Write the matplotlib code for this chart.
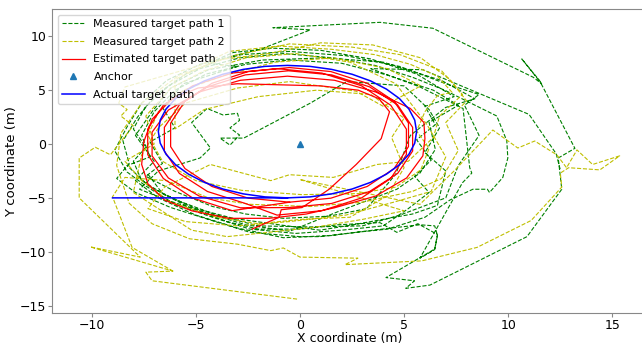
import matplotlib
matplotlib.use("Agg")
import matplotlib.pyplot as plt

# ---- Measured target path 1, (x, y) in metres ----
path1 = [
    (-7.3, -2.8), (-6.6, -4.6), (-5.3, -5.9), (-3.5, -7.2), (-2.0, -7.9), (0.0, -7.9), (1.8, -7.5),
    (3.84, -7.3), (4.65, -8.2), (5.66, -7.4), (6.6, -8.4), (6.47, -9.75), (4.13, -12.4), (5.5, -12.7),
    (5.08, -13.4), (6.24, -13.1), (10.9, -8.6), (12.57, -4.2), (12.4, -1.3), (13.2, -0.4), (11.5, 5.9),
    (10.65, 7.9), (11.6, 5.6), (11.2, 6.2), (6.38, 10.75), (3.84, 11.3), (-1.3, 10.8), (0.5, 10.6),
    (-1.9, 8.8), (-3.6, 8.0), (-5.4, 6.6), (-6.9, 4.6), (-7.8, 2.5), (-8.5, 0.3), (-8.2, -1.8),
    (-8.8, -3.2), (-7.9, -4.5), (-6.2, -5.9), (-4.4, -7.0), (-2.4, -8.2), (0.0, -8.6), (0.96, -8.6),
    (2.7, -8.2), (4.2, -7.9), (6.0, -6.8), (7.2, -5.2), (8.3, -4.2), (9.0, -4.2), (9.1, -4.5),
    (9.74, -3.1), (9.98, -1.3), (9.93, 0.3), (9.45, 2.6), (6.95, 5.0), (5.4, 6.2), (3.6, 7.3),
    (1.6, 8.0), (-0.8, 8.4), (-2.9, 8.0), (-4.8, 7.0), (-6.3, 5.4), (-7.4, 3.5), (-8.0, 1.4),
    (-7.4, -0.3), (-8.0, -1.6), (-7.6, -3.4), (-6.5, -4.7), (-5.0, -6.0), (-3.2, -6.9), (-1.0, -7.5),
    (0.96, -8.0), (2.55, -7.5), (5.4, -6.5), (6.6, -5.7), (7.0, -2.5), (6.0, -0.8), (6.7, 1.5),
    (6.2, 3.2), (5.0, 5.4), (2.25, 5.8), (0.5, 3.8), (-2.7, 0.55), (-3.84, 0.55), (-3.36, -0.1),
    (-2.9, 0.83), (-3.36, 1.5), (-2.9, 2.2), (-3.0, 2.85), (-3.7, 2.7), (-4.46, 3.3), (-5.2, 2.0),
    (-4.3, -0.37), (-4.8, -1.3), (-6.8, -2.5), (-7.7, -4.2), (-6.4, -5.2), (-4.5, -6.4), (-2.6, -7.5),
    (-0.5, -8.1), (1.8, -6.3), (4.65, -4.2), (5.76, -2.7), (6.5, -0.5), (6.2, 2.0), (7.6, 3.6),
    (6.4, 5.0), (4.2, 6.4), (2.0, 7.5), (-0.5, 7.8), (-2.6, 7.4), (-4.5, 6.5), (-6.0, 5.0),
    (-7.0, 3.0), (-7.6, 0.8), (-7.2, -1.2), (-8.3, -2.0), (-7.2, -4.0), (-5.8, -5.3), (-4.0, -6.6),
    (-2.0, -7.6), (0.5, -7.7), (3.0, -7.6), (4.8, -6.6), (7.0, -5.0), (7.6, -2.0), (8.6, 0.8),
    (7.9, 3.6), (8.6, 4.6), (7.0, 5.6), (4.8, 7.2), (2.2, 8.2), (-0.5, 8.6), (-2.8, 8.3),
    (-4.8, 7.4), (-6.4, 5.9), (-7.6, 3.8), (-8.3, 1.6), (-8.9, -0.6), (-8.3, -2.6), (-7.4, -3.9),
    (-6.0, -5.6), (-4.2, -6.8), (-2.4, -7.9), (-0.2, -8.3), (2.0, -8.0), (4.0, -7.6), (5.2, -6.0),
    (6.2, -4.5), (5.5, -3.0), (6.3, -1.5), (5.6, 0.4), (6.5, 1.8), (6.0, 3.5), (7.4, 4.4),
    (5.6, 6.5), (3.4, 7.9), (1.0, 8.7), (-1.3, 8.9), (-3.2, 8.5), (-4.4, 7.5), (-3.0, 7.2),
    (-5.6, 5.6), (-6.6, 3.4), (-6.0, 1.5), (-7.2, 0.2), (-6.6, -1.8), (-7.4, -3.0), (-6.0, -4.4),
    (-4.2, -5.8), (-2.6, -6.5), (-0.8, -6.9), (1.4, -6.7), (3.2, -6.0), (4.6, -2.8), (5.3, 0.8),
    (7.0, 3.4), (8.4, 4.2), (6.8, 5.9), (4.0, 7.6), (1.2, 8.0), (-1.8, 7.8), (-4.4, 6.9),
    (-6.2, 5.2), (-7.1, 3.0), (-7.9, 0.8), (-7.0, -1.6), (-7.9, -3.4), (-6.8, -5.0), (-5.0, -6.6),
    (-3.0, -7.8), (-0.8, -8.7), (1.5, -8.5), (3.5, -8.0), (5.76, -7.5), (6.47, -7.6), (6.6, -8.5),
    (6.47, -9.8), (5.76, -10.6), (7.8, -3.6), (8.25, -2.7), (8.15, -2.2), (7.83, 3.3), (5.76, 5.3),
    (3.4, 7.0), (5.9, 6.9), (11.0, 2.75), (12.3, -0.9), (12.5, -2.4),
]

# ---- Measured target path 2, (x, y) in metres ----
path2 = [
    (-0.14, -14.4), (-7.1, -12.7), (-7.4, -11.9), (-6.1, -11.8), (-10.07, -9.55), (-7.67, -10.5),
    (-10.6, -5.0), (-10.6, -1.3), (-9.83, -0.3), (-9.1, -1.0), (-8.0, 1.7), (-8.6, 2.6), (-8.3, 3.2),
    (-8.7, 3.8), (-8.4, 5.3), (-4.8, 7.3), (-3.4, 8.6), (-1.0, 9.1), (1.5, 8.8), (3.6, 8.3),
    (5.3, 7.4), (6.6, 6.3), (7.3, 4.8), (6.6, 4.5), (6.0, 3.0), (5.6, 1.2), (6.2, -0.4), (5.8, -2.4),
    (4.6, -4.0), (2.8, -4.6), (0.1, -4.7), (-2.8, -4.3), (-5.0, -3.4), (-6.6, -1.6), (-7.3, 0.8),
    (-6.8, 3.0), (-5.6, 5.0), (-3.6, 6.4), (-1.2, 7.6), (1.6, 8.0), (4.2, 7.0), (5.8, 5.4),
    (4.0, 3.5), (2.7, 4.9), (-0.5, 5.8), (-3.0, 5.2), (-5.5, 3.8), (-6.8, 1.5), (-7.6, -1.0),
    (-8.0, -4.5), (-5.2, -8.0), (-3.5, -8.6), (-1.5, -8.2), (0.8, -7.7), (3.0, -7.0), (5.0, -6.2),
    (0.0, -3.3), (5.76, -5.6), (7.4, -2.5), (9.26, 1.3), (10.46, -0.37), (11.27, 0.28), (12.33, -1.0),
    (12.8, -2.2), (13.3, -0.55), (14.05, -1.9), (15.35, -1.1), (14.4, -2.4), (12.9, -2.2), (12.5, -2.7),
    (12.57, -4.0), (11.1, -7.1), (8.5, -9.6), (5.85, -10.85), (2.16, -11.2), (2.78, -10.6), (0.0, -10.5),
    (-0.8, -9.65), (-1.4, -9.9), (-3.0, -9.3), (-5.3, -8.8), (-7.1, -7.4), (-8.2, -5.5), (-8.8, -2.0),
    (-8.6, 1.0), (-7.6, 3.8), (-5.8, 6.4), (-3.2, 8.2), (-0.5, 9.3), (2.5, 9.0), (4.8, 8.3),
    (6.8, 6.8), (7.8, 4.6), (6.7, 2.6), (6.4, 0.6), (5.2, -1.6), (3.7, -1.9), (1.6, -3.1),
    (-0.5, -2.85), (-1.4, -3.4), (-4.3, -1.9), (-6.5, -4.0), (-7.3, -6.0), (-5.5, -7.2), (-3.0, -7.6),
    (-0.5, -7.2), (2.2, -6.6), (4.5, -5.4), (6.3, -4.4), (7.0, -1.2), (6.1, 1.8), (4.6, 5.6),
    (2.4, 7.6), (-0.2, 8.4), (-2.6, 8.0), (-4.6, 6.8), (-6.2, 5.2), (-7.4, 2.6), (-7.0, 0.0),
    (-8.4, -1.6), (-7.6, -3.4), (-6.2, -5.4), (-4.0, -6.8), (-2.0, -7.4), (0.0, -7.0), (2.4, -6.8),
    (4.2, -4.8), (5.0, -2.2), (4.4, 0.6), (5.0, 2.4), (3.4, 4.6), (0.8, 5.0), (-2.0, 4.4),
    (-4.6, 3.2), (-6.0, 1.4), (-6.0, 6.0), (-4.0, 7.8), (-1.5, 8.4), (1.0, 9.4), (3.5, 9.2),
    (5.8, 8.0), (7.2, 6.0), (8.0, 4.0), (7.0, 2.0), (7.6, -0.6), (6.8, -3.2), (5.4, -4.4),
    (3.0, -5.4), (0.5, -5.8), (-2.4, -5.6), (-4.4, -5.0), (-6.4, -3.4), (-8.4, -3.1), (-9.0, -4.9),
    (-8.06, -9.6), (-6.1, -11.8),
]

# ---- Estimated target path, (x, y) in metres ----
estimated = [
    (-2.3, -7.9), (-1.0, -6.8), (-0.9, -6.1), (0.1, -5.9), (1.4, -4.2), (2.7, -1.9), (3.9, 0.5),
    (4.3, 3.0), (3.8, 4.2), (2.8, 5.0), (1.0, 5.4), (-1.0, 5.5), (-3.0, 5.6), (-4.9, 5.2),
    (-6.2, 4.1), (-7.1, 2.3), (-7.5, 0.2), (-7.6, -1.9), (-7.3, -3.7), (-6.5, -5.2), (-5.2, -6.2),
    (-3.4, -6.9), (-1.5, -6.9), (0.3, -6.5),
    (1.66, -5.92), (3.64, -4.83), (5.12, -3.15), (5.90, -1.10), (6.0, 0.5), (5.95, 2.0), (5.3, 3.3),
    (3.64, 4.83), (1.66, 5.92), (-0.6, 6.3), (-2.86, 5.92), (-4.84, 4.83), (-6.32, 3.15), (-7.10, 1.10),
    (-7.10, -1.10), (-6.32, -3.15), (-4.84, -4.83), (-2.86, -5.92),
    (-0.55, -5.9), (1.52, -5.52), (3.34, -4.41), (4.69, -2.73), (5.41, -0.65), (5.41, 1.55), (4.69, 3.63),
    (3.34, 5.31), (1.52, 6.42), (-0.55, 6.8), (-2.62, 6.42), (-4.44, 5.31), (-5.79, 3.63), (-6.51, 1.55),
    (-6.51, -0.65), (-5.79, -2.73), (-4.44, -4.41), (-2.62, -5.52),
    (-1.1, -6.6), (1.05, -6.19), (2.95, -5.01), (4.36, -3.2), (5.11, -0.98), (5.11, 1.38), (4.36, 3.6),
    (2.95, 5.41), (1.05, 6.59), (-1.1, 7.0), (-3.25, 6.59), (-5.15, 5.41), (-6.56, 3.6), (-7.31, 1.38),
    (-7.31, -0.98), (-6.56, -3.2), (-5.15, -5.01), (-3.25, -6.19),
    (-0.5, -5.4), (1.48, -5.03), (3.23, -3.94), (4.52, -2.28), (5.21, -0.24), (5.21, 1.94), (4.52, 3.98),
    (3.23, 5.64), (1.48, 6.73), (-0.5, 7.1), (-2.48, 6.73), (-4.23, 5.64), (-5.52, 3.98), (-6.21, 1.94),
    (-6.21, -0.24), (-5.52, -2.28), (-4.23, -3.94), (-2.48, -5.03), (-0.5, -5.4),
]

# ---- Anchor position ----
anchor = [(0.0, 0.0)]

# ---- Actual target path: straight approach, then the circular track ----
actual = [
    (-9.0, -5.0), (-0.6, -5.00), (0.48, -4.91), (1.52, -4.63), (2.50, -4.18), (3.39, -3.56), (4.15, -2.80),
    (4.77, -1.93), (5.23, -0.95), (5.51, 0.08), (5.60, 1.15), (5.51, 2.22), (5.23, 3.25), (4.77, 4.23),
    (4.15, 5.10), (3.39, 5.86), (2.50, 6.48), (1.52, 6.93), (0.48, 7.21), (-0.60, 7.30), (-1.68, 7.21),
    (-2.72, 6.93), (-3.70, 6.48), (-4.59, 5.86), (-5.35, 5.10), (-5.97, 4.23), (-6.43, 3.25),
    (-6.71, 2.22), (-6.80, 1.15), (-6.71, 0.08), (-6.43, -0.95), (-5.97, -1.93), (-5.35, -2.80),
    (-4.59, -3.56), (-3.70, -4.18), (-2.72, -4.63), (-1.68, -4.91), (-0.60, -5.00),
]


def xs(points):
    return [p[0] for p in points]


def ys(points):
    return [p[1] for p in points]


plt.rcParams["font.family"] = ["DejaVu Sans"]
fig = plt.figure(figsize=(6.42, 3.47), dpi=100)
ax = fig.add_axes([0.0815, 0.098, 0.9259, 0.8752])

ax.plot(xs(path1), ys(path1), "g--", lw=0.8, label="Measured target path 1")
ax.plot(xs(path2), ys(path2), "y--", lw=0.8, label="Measured target path 2")
ax.plot(xs(estimated), ys(estimated), "r-", lw=0.9, label="Estimated target path")
ax.plot(xs(anchor), ys(anchor), "^", color="C0", ms=4.5, ls="none", label="Anchor")
ax.plot(xs(actual), ys(actual), "b-", lw=1.1, label="Actual target path")

ax.set_xlim(-11.89, 16.65)
ax.set_ylim(-15.69, 12.51)
ax.set_xticks([-10, -5, 0, 5, 10, 15])
ax.set_yticks([-15, -10, -5, 0, 5, 10])
ax.tick_params(labelsize=9, length=3, color="#888888", pad=1.5)
ax.set_xlabel("X coordinate (m)", fontsize=9, labelpad=0)
ax.set_ylabel("Y coordinate (m)", fontsize=9.5, labelpad=1)
for side in ["left", "bottom", "top", "right"]:
    ax.spines[side].set_color("#888888")

ax.legend(loc="upper left", fontsize=8, labelspacing=0.68)
fig.savefig("out.png", dpi=100)
